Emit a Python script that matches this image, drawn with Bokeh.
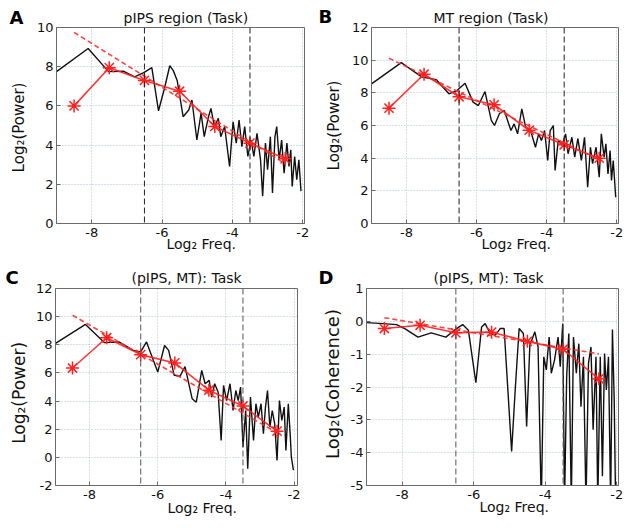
import math
from bokeh.plotting import figure
from bokeh.layouts import row, column
from bokeh.models import Span, Label, FixedTicker, Range1d, Title
from bokeh.embed import file_html
from bokeh.resources import INLINE

# ---------------- data ----------------
band_edges = [-6.5, -3.5]
x_ticks = [-8, -6, -4, -2]
star_x = [-8.5, -7.5, -6.5, -5.5, -4.5, -3.5, -2.5]
fit_x = [-8.5, -2.5]

# Panel A : pIPS region (Task)
a_x = [-9.0, -8.1, -7.52, -7.1, -6.78, -6.52, -6.29, -6.1, -5.93, -5.78, -5.68, -5.57, -5.4, -5.24, -5.15,
       -5.01, -4.89, -4.80, -4.68, -4.61, -4.51, -4.40, -4.33, -4.22, -4.08, -3.98, -3.89, -3.81, -3.73,
       -3.65, -3.56, -3.47, -3.39, -3.30, -3.20, -3.14, -3.06, -3.0, -2.92, -2.86, -2.79, -2.74, -2.67,
       -2.60, -2.53, -2.45, -2.39, -2.34, -2.30, -2.23, -2.17, -2.11, -2.05]
a_y = [7.75, 8.93, 7.75, 7.77, 7.48, 7.7, 7.95, 5.75, 6.9, 8.05, 7.8, 7.3, 5.45, 5.79, 6.3,
       4.26, 5.63, 4.43, 5.45, 5.87, 4.94, 5.37, 4.43, 4.94, 2.91, 5.19, 4.1, 5.28, 3.92,
       4.94, 3.42, 4.26, 3.42, 4.6, 3.25, 1.39, 4.1, 2.74, 4.43, 1.56, 4.43, 4.94, 3.25,
       4.26, 2.57, 4.1, 2.91, 3.76, 1.89, 3.42, 2.23, 3.25, 1.65]
a_star = [6.0, 7.95, 7.3, 6.75, 4.95, 4.1, 3.3]
a_fit = [9.75, 3.05]

# Panel B : MT region (Task)
b_x = [-9.0, -8.15, -7.57, -7.15, -6.79, -6.56, -6.33, -6.10, -5.95, -5.76, -5.58, -5.49, -5.35, -5.21,
       -5.02, -4.93, -4.83, -4.71, -4.60, -4.46, -4.32, -4.23, -4.15, -4.06, -3.97, -3.90, -3.81, -3.76,
       -3.67, -3.56, -3.46, -3.39, -3.28, -3.20, -3.11, -3.01, -2.92, -2.83, -2.75, -2.69, -2.59, -2.50,
       -2.44, -2.36, -2.31, -2.25, -2.19, -2.15, -2.10, -2.03]
b_y = [8.55, 9.85, 8.98, 8.8, 7.94, 8.14, 8.59, 7.43, 7.22, 8.08, 6.31, 6.0, 6.72, 6.92,
       5.69, 6.1, 5.49, 7.02, 5.9, 5.69, 4.67, 5.49, 5.08, 5.69, 3.86, 5.69, 6.0, 3.25,
       5.08, 4.78, 5.49, 4.27, 5.28, 4.06, 5.19, 3.86, 5.28, 2.22, 4.67, 3.66, 4.67, 2.84,
       5.49, 4.06, 4.88, 3.04, 4.47, 2.63, 3.86, 1.61]
b_star = [7.06, 9.14, 7.76, 7.27, 5.71, 4.82, 4.0]
b_fit = [10.12, 3.9]

# Panel C : (pIPS, MT): Task  (power)
c_x = [-9.0, -8.12, -7.56, -7.14, -6.72, -6.5, -6.33, -6.0, -5.8, -5.68, -5.52, -5.35, -5.2, -4.99,
       -4.87, -4.71, -4.61, -4.49, -4.42, -4.33, -4.23, -4.14, -4.07, -3.98, -3.88, -3.79, -3.71,
       -3.64, -3.57, -3.50, -3.42, -3.36, -3.28, -3.19, -3.12, -3.05, -2.97, -2.90, -2.84, -2.78,
       -2.71, -2.64, -2.57, -2.50, -2.43, -2.36, -2.29, -2.24, -2.17, -2.11, -2.08, -2.02]
c_y = [8.1, 9.45, 8.15, 8.2, 7.6, 7.5, 8.2, 6.06, 7.95, 7.6, 5.85, 5.75, 6.45, 4.16,
       3.92, 6.18, 5.23, 5.47, 4.28, 5.23, 4.64, 1.2, 5.11, 4.04, 5.23, 3.33, 4.75,
       4.04, 4.99, 0.72, 3.33, -0.81, 4.28, 1.2, 3.81, 2.86, 3.81, 1.68, 3.57, 4.75,
       2.15, 3.33, 2.39, -0.22, 4.04, 2.62, 3.57, 0.49, 3.81, 1.44, 0.01, -0.9]
c_star = [6.35, 8.5, 7.3, 6.71, 4.77, 3.65, 1.86]
c_fit = [10.1, 1.75]

# Panel D : (pIPS, MT): Task  (coherence)
d_x = [-9.0, -8.53, -8.16, -7.93, -7.56, -7.19, -6.78, -6.54, -6.31, -6.15, -5.94, -5.78, -5.68, -5.54,
       -5.40, -5.26, -5.15, -4.94, -4.84, -4.73, -4.61, -4.52, -4.43, -4.29, -4.20, -4.11, -4.04, -3.97,
       -3.89, -3.83, -3.74, -3.64, -3.58, -3.51, -3.46, -3.40, -3.34, -3.27, -3.21, -3.13, -3.06, -3.00,
       -2.93, -2.86, -2.79, -2.72, -2.66, -2.58, -2.53, -2.46, -2.40, -2.34, -2.29, -2.23, -2.17, -2.12,
       -2.07, -2.03]
d_y = [-0.04, -0.07, -0.1, -0.22, -0.48, -0.35, -0.48, -0.27, -0.1, -0.27, -1.87, -0.17, -0.07, -0.37,
       -0.42, -0.22, -0.22, -3.96, -2.09, -0.22, -0.37, -3.2, -0.73, -0.32, -0.78, -5.6, -1.08, -1.48,
       -0.48, -1.58, -1.18, -0.48, -1.38, -0.07, -5.6, -1.69, -0.37, -5.6, -0.48, -1.58, -0.68, -2.6,
       -1.08, -5.6, -1.28, -0.78, -3.3, -1.08, -5.6, -1.08, -4.72, -0.98, -2.09, -1.08, -5.6, -0.25,
       -2.4, -5.6]
d_star = [-0.22, -0.12, -0.35, -0.33, -0.61, -0.85, -1.75]
d_fit = [0.11, -0.99]

FONT = "DejaVu Sans"
AX = "#6a6a6a"
ROW_H = 264


def fmt(v):
    return ("-" if v < 0 else "") + str(abs(v))


def strip(width, top, bottom, letter, letter_x, letter_sd, ylabel, ylabel_x, ylabel_frac, ylabel_size):
    """Left margin: panel letter (as a title above the frame) and the rotated y-axis title."""
    s = figure(width=width, height=ROW_H, output_backend="svg", toolbar_location=None,
               x_range=Range1d(0, width), y_range=Range1d(0, 1),
               x_axis_type=None, y_axis_type=None,
               min_border_left=0, min_border_right=0, min_border_top=top, min_border_bottom=bottom,
               background_fill_color="white", border_fill_color="white")
    s.outline_line_color = None
    s.grid.visible = False
    s.title.text = letter
    s.title.align = "left"
    s.title.offset = letter_x
    s.title.vertical_align = "bottom"
    s.title.standoff = letter_sd
    s.title.text_font = FONT
    s.title.text_font_size = "18px"
    s.title.text_font_style = "bold"
    s.title.text_color = "#000000"
    s.add_layout(Label(x=ylabel_x, y=ylabel_frac, text=ylabel, text_font=FONT,
                       text_font_size=ylabel_size, text_color="#111111", angle=math.pi / 2,
                       text_baseline="top", text_align="center"))
    return s


def panel(title, lx, ly, sy, fy, yr, yticks, xend, width, borders, title_off, title_sd,
          xlab_off, xlab_sd, vline_color):
    bl, br, bt, bb = borders
    p = figure(width=width, height=ROW_H, output_backend="svg", toolbar_location=None,
               x_range=Range1d(-9, xend), y_range=Range1d(*yr),
               min_border_left=bl, min_border_right=br, min_border_top=bt, min_border_bottom=bb,
               background_fill_color="white", border_fill_color="white")
    p.title.text = title
    p.title.align = "left"
    p.title.offset = title_off
    p.title.vertical_align = "bottom"
    p.title.text_font = FONT
    p.title.text_font_size = "14px"
    p.title.text_font_style = "normal"
    p.title.text_color = "#111111"
    p.title.standoff = title_sd
    p.outline_line_color = AX
    p.outline_line_width = 1

    for ax in (p.xaxis[0], p.yaxis[0]):
        ax.axis_line_color = AX
        ax.major_tick_line_color = AX
        ax.major_tick_in = 4
        ax.major_tick_out = 0
        ax.minor_tick_in = 0
        ax.minor_tick_out = 0
        ax.major_label_text_font = FONT
        ax.major_label_text_font_size = "13px"
        ax.major_label_text_color = "#111111"
    p.xaxis.ticker = FixedTicker(ticks=x_ticks)
    p.yaxis.ticker = FixedTicker(ticks=yticks)
    p.xaxis.major_label_overrides = {t: fmt(t) for t in x_ticks}
    p.yaxis.major_label_overrides = {t: fmt(t) for t in yticks}
    p.xaxis.major_label_standoff = 4
    p.yaxis.major_label_standoff = 3

    for g in (p.xgrid[0], p.ygrid[0]):
        g.grid_line_color = "#aebfd2"
        g.grid_line_dash = "1 2"
        g.grid_line_width = 1
    p.xgrid.ticker = FixedTicker(ticks=x_ticks)
    p.ygrid.ticker = FixedTicker(ticks=yticks)

    for v in band_edges:
        p.add_layout(Span(location=v, dimension="height", line_color=vline_color,
                          line_dash="6 3", line_width=1))

    p.line(lx, ly, line_color="#111111", line_width=1.4)
    p.line(fit_x, fy, line_color="#ff3030", line_width=1.6, line_dash="5 3", line_alpha=0.9)
    p.line(star_x, sy, line_color="#ff2020", line_width=1.6, line_alpha=0.9)
    p.scatter(star_x, sy, marker="asterisk", size=13, line_color="#ff2020", line_width=1.5)

    xl = Title(text="Log\u2082 Freq.", align="left", offset=xlab_off, vertical_align="top",
               standoff=xlab_sd, text_font=FONT, text_font_size="14px",
               text_font_style="normal", text_color="#111111")
    p.add_layout(xl, "below")
    return p


sA = strip(33, 27, 40, "A", 9, 0, "Log\u2082(Power)", 9, 0.49, "15px")
pA = panel("pIPS region (Task)", a_x, a_y, a_star, a_fit, (0, 10), [0, 2, 4, 6, 8, 10], -1.95,
           285, (20, 14, 27, 40), 67, 4, 110, -8, "#222222")
sB = strip(30, 27, 41, "B", 0, 1, "Log\u2082(Power)", 6, 0.5, "15px")
pB = panel("MT region (Task)", b_x, b_y, b_star, b_fit, (0, 12), [0, 2, 4, 6, 8, 10, 12], -1.95,
           281, (20, 11, 27, 41), 62, 4, 110, -7, "#222222")
sC = strip(32, 24, 43, "C", 5, 1, "Log\u2082(Power)", 8.3, 0.47, "17px")
pC = panel("(pIPS, MT): Task", c_x, c_y, c_star, c_fit, (-2, 12), [-2, 0, 2, 4, 6, 8, 10, 12], -1.9,
           286, (19, 21, 24, 43), 76, 5, 112, -3, "#555555")
sD = strip(29, 24, 42, "D", 0, 1, "Log\u2082(Coherence)", 3.7, 0.515, "18px")
pD = panel("(pIPS, MT): Task", d_x, d_y, d_star, d_fit, (-5, 1), [-5, -4, -3, -2, -1, 0, 1], -1.95,
           282, (18, 11, 24, 42), 67, 5, 113, -5, "#555555")

layout = column(row(sA, pA, sB, pB), row(sC, pC, sD, pD))

open("out.html", "w").write(file_html(layout, INLINE))
